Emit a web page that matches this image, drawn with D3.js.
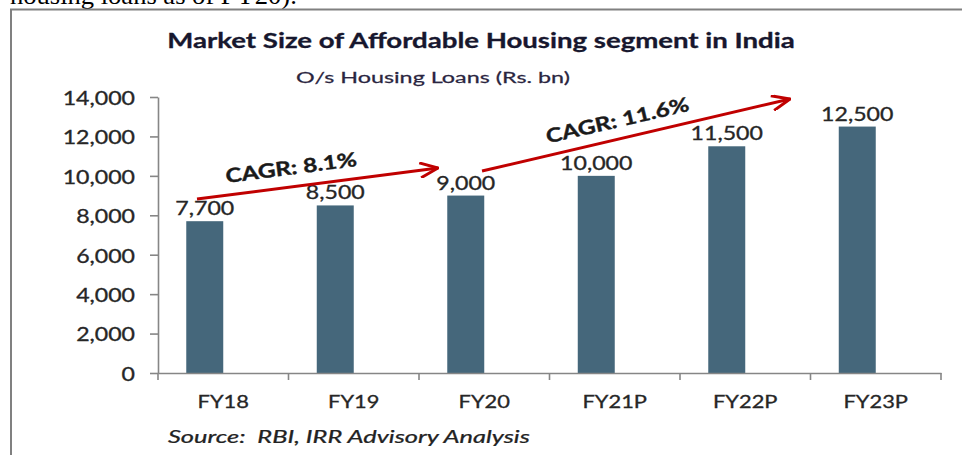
<!DOCTYPE html>
<html><head><meta charset="utf-8">
<script src="https://cdn.jsdelivr.net/npm/d3@7"></script>
<style>html,body{margin:0;padding:0;background:#fff;overflow:hidden}</style>
</head><body><svg id="c" width="962" height="455"></svg>
<script>
// ---- data ----
const categories = ["FY18", "FY19", "FY20", "FY21P", "FY22P", "FY23P"];
const loans = [7700, 8500, 9000, 10000, 11500, 12500];
const yTicks = [0, 2000, 4000, 6000, 8000, 10000, 12000, 14000];
const cagrLabels = ["CAGR: 8.1%", "CAGR: 11.6%"];
const titleText = "Market Size of Affordable Housing segment in India";
const subtitleText = "O/s Housing Loans (Rs. bn)";
const sourceText = "Source:  RBI, IRR Advisory Analysis";
const topText = "housing loans as of FY20).";

// ---- setup ----
const svg = d3.select("#c");
const SX = 1.25;
const FONT = "Lato, 'Open Sans', sans-serif";
const AXIS = "#868686";
const TXT = "#262626";

const x = d3.scaleBand().domain(categories).range([158, 941]).padding(0);
const xs = d3.scaleBand().domain(["loans", "hidden"]).range([0, x.bandwidth()])
  .paddingInner(0).paddingOuter(0.764);
const y = d3.scaleLinear().domain([0, 14000]).range([373, 97]);
const xAt = i => x.range()[0] + (i + 0.5) * x.step();

function stext(parent, str, px, py, o) {
  const g = parent.append("g")
    .attr("transform", `translate(${px},${py})` + (o.rotate ? ` rotate(${o.rotate})` : ""));
  const t = g.append("text").text(str)
    .attr("font-family", o.family || FONT)
    .attr("font-size", o.size)
    .attr("font-weight", o.weight || 400)
    .attr("font-style", o.style || "normal")
    .attr("fill", o.fill || TXT)
    .attr("text-anchor", o.anchor || "middle")
    .style("white-space", "pre");
  if (o.stroke) t.attr("stroke", o.fill || TXT).attr("stroke-width", o.stroke);
  if (o.dy) t.attr("dy", o.dy);
  let sx = o.sx || SX;
  if (o.width) sx = o.width / t.node().getComputedTextLength();
  t.attr("transform", `scale(${sx},1)`);
  return t;
}

// frame and text above it
stext(svg, topText, 10, 4, {family: "'Liberation Serif', 'Times New Roman', serif", size: 26, anchor: "start", width: 287, fill: "#000"});
svg.append("path").attr("d", "M11,455V9.5H962").attr("fill", "none")
  .attr("stroke", "#808080").attr("stroke-width", 2);

// titles
stext(svg, titleText, 481, 48, {size: 20, weight: 700, width: 628, fill: "#17172e", stroke: 0.3});
stext(svg, subtitleText, 433, 83, {size: 16, width: 274, fill: "#2a2540", stroke: 0.25});

// bars
svg.append("g").selectAll("rect").data(loans).join("rect")
  .attr("x", (d, i) => x(categories[i]) + xs("loans"))
  .attr("width", xs.bandwidth())
  .attr("y", d => y(d))
  .attr("height", d => y(0) - y(d))
  .attr("fill", "#45677b");

// y axis
const yAxis = svg.append("g").attr("transform", "translate(158,0)")
  .call(d3.axisLeft(y).tickValues(yTicks).tickSize(8).tickSizeOuter(0)
    .tickFormat(d3.format(",")));
yAxis.select(".domain").attr("stroke", AXIS).attr("stroke-width", 1.6);
yAxis.selectAll(".tick line").attr("stroke", AXIS).attr("stroke-width", 1.6);
yAxis.selectAll(".tick text")
  .attr("font-family", FONT).attr("font-size", 18.5).attr("fill", TXT)
  .attr("stroke", TXT).attr("stroke-width", 0.3)
  .attr("x", -23 / SX).attr("dy", "0.4em")
  .attr("transform", `scale(${SX},1)`);

// x axis
const xAxis = svg.append("g").attr("transform", "translate(0,373)")
  .call(d3.axisBottom(x).tickSize(0).tickSizeOuter(0));
xAxis.select(".domain").attr("stroke", AXIS).attr("stroke-width", 1.6);
xAxis.selectAll(".tick text")
  .attr("font-family", FONT).attr("font-size", 17.5).attr("fill", TXT)
  .attr("stroke", TXT).attr("stroke-width", 0.3)
  .attr("y", 35).attr("dy", 0)
  .attr("transform", `scale(${SX},1)`);
const bounds = categories.map(c => x(c)).concat([x.range()[1]]);
xAxis.selectAll("line.bt").data(bounds).join("line").attr("class", "bt")
  .attr("x1", d => d).attr("x2", d => d).attr("y1", 0).attr("y2", 7)
  .attr("stroke", AXIS).attr("stroke-width", 1.6);

// value labels
loans.forEach((v, i) => {
  stext(svg, d3.format(",")(v), x(categories[i]) + xs("loans") + xs.bandwidth() / 2, y(v) - 6,
    {size: 18.5, fill: TXT, stroke: 0.3});
});

// CAGR arrows
const defs = svg.append("defs");
defs.append("marker").attr("id", "ah").attr("viewBox", "0 0 20 16")
  .attr("refX", 19).attr("refY", 8).attr("markerWidth", 20).attr("markerHeight", 16)
  .attr("markerUnits", "userSpaceOnUse").attr("orient", "auto")
  .append("path").attr("d", "M1,0.5L19,8L1,15.5").attr("fill", "none")
  .attr("stroke", "#c00000").attr("stroke-width", 3).attr("stroke-linejoin", "miter");

const arrowFrom = [[-0.201, 8826], [1.983, 10246]];
const arrowTo = [[1.646, 10399], [4.343, 13899]];
const labelAt = [[0.527, 10069], [3.033, 12478]];
const labelRot = [-7.5, -13];
arrowFrom.forEach((f, k) => {
  const t = arrowTo[k];
  svg.append("line")
    .attr("x1", xAt(f[0])).attr("y1", y(f[1]))
    .attr("x2", xAt(t[0])).attr("y2", y(t[1]))
    .attr("stroke", "#c00000").attr("stroke-width", 3)
    .attr("marker-end", "url(#ah)");
  stext(svg, cagrLabels[k], xAt(labelAt[k][0]), y(labelAt[k][1]),
    {size: 19.5, weight: 700, rotate: labelRot[k], fill: "#1a1a1a", sx: 1.25, stroke: 0.4});
});

// source
stext(svg, sourceText, 168, 443, {size: 17, style: "italic", anchor: "start", width: 362, fill: "#222", stroke: 0.25});
</script>
</body></html>
